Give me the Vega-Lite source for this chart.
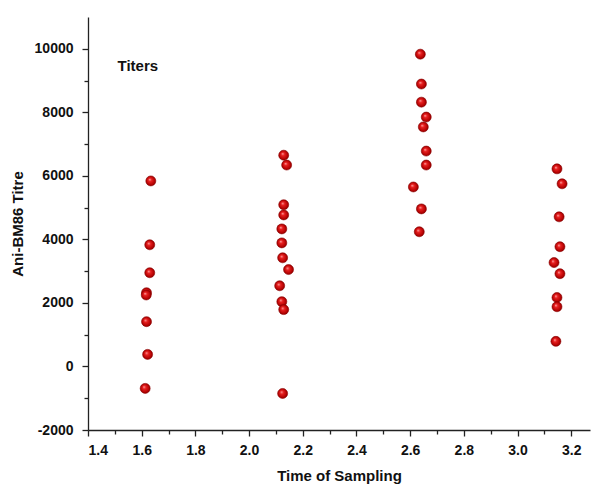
{
  "$schema": "https://vega.github.io/schema/vega-lite/v6.json",
  "width": 502,
  "height": 413,
  "autosize": {"type": "none"},
  "padding": {"left": 88, "top": 17, "right": 3, "bottom": 56},
  "background": "white",
  "config": {
    "view": {"stroke": null},
    "font": "Liberation Sans",
    "axis": {
      "grid": false,
      "domainColor": "#222222",
      "domainWidth": 1.3,
      "tickColor": "#222222",
      "tickWidth": 1.3,
      "labelFont": "Liberation Sans",
      "labelFontWeight": "bold",
      "labelFontSize": 14,
      "labelColor": "#111111",
      "titleFont": "Liberation Sans",
      "titleFontWeight": "bold",
      "titleFontSize": 15,
      "titleColor": "#111111"
    }
  },
  "datasets": {
    "titers": [
      {"time": 1.634, "titre": 5840},
      {"time": 1.630, "titre": 3830},
      {"time": 1.630, "titre": 2950},
      {"time": 1.618, "titre": 2320},
      {"time": 1.617, "titre": 2250},
      {"time": 1.618, "titre": 1410},
      {"time": 1.622, "titre": 380},
      {"time": 1.613, "titre": -690},
      {"time": 2.129, "titre": 6650},
      {"time": 2.140, "titre": 6340},
      {"time": 2.129, "titre": 5090},
      {"time": 2.129, "titre": 4770},
      {"time": 2.122, "titre": 4330},
      {"time": 2.122, "titre": 3890},
      {"time": 2.125, "titre": 3420},
      {"time": 2.147, "titre": 3050},
      {"time": 2.114, "titre": 2540},
      {"time": 2.122, "titre": 2040},
      {"time": 2.129, "titre": 1790},
      {"time": 2.125, "titre": -850},
      {"time": 2.638, "titre": 9830},
      {"time": 2.642, "titre": 8890},
      {"time": 2.642, "titre": 8320},
      {"time": 2.660, "titre": 7850},
      {"time": 2.649, "titre": 7540},
      {"time": 2.660, "titre": 6780},
      {"time": 2.660, "titre": 6340},
      {"time": 2.612, "titre": 5650},
      {"time": 2.642, "titre": 4960},
      {"time": 2.634, "titre": 4240},
      {"time": 3.147, "titre": 6220},
      {"time": 3.166, "titre": 5750},
      {"time": 3.155, "titre": 4710},
      {"time": 3.158, "titre": 3770},
      {"time": 3.136, "titre": 3270},
      {"time": 3.158, "titre": 2920},
      {"time": 3.147, "titre": 2170},
      {"time": 3.147, "titre": 1880},
      {"time": 3.143, "titre": 790}
    ],
    "label": [{"time": 1.51, "titre": 9450, "text": "Titers"}]
  },
  "resolve": {"axis": {"x": "independent", "y": "independent"}},
  "layer": [
    {
      "data": {"name": "titers"},
      "mark": {"type": "rule", "opacity": 0},
      "encoding": {
        "x": {
          "field": "time", "type": "quantitative",
          "scale": {"domain": [1.4, 3.27], "nice": false, "zero": false},
          "axis": {
            "orient": "bottom",
            "values": [1.5, 1.7, 1.9, 2.1, 2.3, 2.5, 2.7, 2.9, 3.1],
            "labels": false, "title": null, "domain": false,
            "tickSize": 4
          }
        },
        "y": {
          "field": "titre", "type": "quantitative",
          "scale": {"domain": [-2000, 11000], "nice": false, "zero": false},
          "axis": {
            "orient": "left",
            "values": [-1000, 1000, 3000, 5000, 7000, 9000],
            "labels": false, "title": null, "domain": false,
            "tickSize": 4
          }
        }
      }
    },
    {
      "data": {"name": "titers"},
      "mark": {
        "type": "point",
        "filled": true,
        "size": 100,
        "opacity": 1,
        "fill": {
          "gradient": "radial",
          "x1": 0.38, "y1": 0.35, "r1": 0,
          "x2": 0.5, "y2": 0.5, "r2": 0.55,
          "stops": [
            {"offset": 0, "color": "#ffb0b0"},
            {"offset": 0.3, "color": "#e82020"},
            {"offset": 0.8, "color": "#b00000"},
            {"offset": 1, "color": "#7a0000"}
          ]
        },
        "stroke": "#8a0000",
        "strokeWidth": 0.6
      },
      "encoding": {
        "x": {
          "field": "time", "type": "quantitative",
          "axis": {
            "orient": "bottom",
            "values": [1.4, 1.6, 1.8, 2.0, 2.2, 2.4, 2.6, 2.8, 3.0, 3.2],
            "format": ".1f",
            "title": "Time of Sampling",
            "tickSize": 6,
            "labelPadding": 7,
            "titlePadding": 11
          }
        },
        "y": {
          "field": "titre", "type": "quantitative",
          "axis": {
            "orient": "left",
            "values": [-2000, 0, 2000, 4000, 6000, 8000, 10000],
            "labelExpr": "toString(datum.value)",
            "title": "Ani-BM86 Titre",
            "tickSize": 6,
            "labelPadding": 9,
            "titlePadding": 9
          }
        }
      }
    },
    {
      "data": {"name": "label"},
      "mark": {"type": "text", "align": "left", "baseline": "middle", "font": "Liberation Sans", "fontWeight": "bold", "fontSize": 15, "color": "#111111"},
      "encoding": {
        "x": {"field": "time", "type": "quantitative", "axis": null},
        "y": {"field": "titre", "type": "quantitative", "axis": null},
        "text": {"field": "text"}
      }
    }
  ]
}
